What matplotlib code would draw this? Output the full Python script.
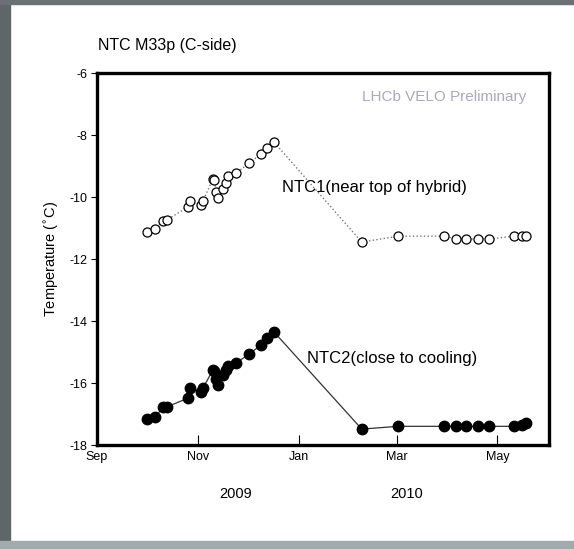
import datetime as dt

import matplotlib
matplotlib.use("Agg")
import matplotlib.pyplot as plt
from matplotlib.patches import Rectangle

plt.rcParams["font.family"] = ["Liberation Sans", "DejaVu Sans"]
plt.rcParams["axes.unicode_minus"] = False

# Measurement dates (2009-10 run) and the two NTC readings in deg C
dates = [
    "2009-10-01", "2009-10-06", "2009-10-11", "2009-10-13", "2009-10-26",
    "2009-10-27", "2009-11-03", "2009-11-04", "2009-11-10", "2009-11-11",
    "2009-11-12", "2009-11-13", "2009-11-16", "2009-11-18", "2009-11-19",
    "2009-11-24", "2009-12-02", "2009-12-09", "2009-12-13", "2009-12-17",
    "2010-02-08", "2010-03-02", "2010-03-30", "2010-04-06", "2010-04-12",
    "2010-04-19", "2010-04-26", "2010-05-11", "2010-05-16", "2010-05-18",
]
ntc1 = [
    -11.13, -11.03, -10.77, -10.74, -10.32, -10.13, -10.26, -10.13, -9.42, -9.45,
    -9.84, -10.03, -9.74, -9.55, -9.32, -9.23, -8.90, -8.61, -8.42, -8.23,
    -11.45, -11.26, -11.26, -11.35, -11.35, -11.35, -11.35, -11.26, -11.26, -11.26,
]
ntc2 = [
    -17.16, -17.10, -16.77, -16.77, -16.48, -16.16, -16.29, -16.16, -15.58, -15.62,
    -15.87, -16.06, -15.74, -15.58, -15.45, -15.35, -15.06, -14.77, -14.55, -14.35,
    -17.48, -17.39, -17.39, -17.39, -17.39, -17.39, -17.39, -17.39, -17.36, -17.29,
]
month_ticks = ["2009-09-01", "2009-11-01", "2010-01-01", "2010-03-01", "2010-05-01"]
month_labels = ["Sep", "Nov", "Jan", "Mar", "May"]
y_ticks = [-6, -8, -10, -12, -14, -16, -18]

x = [dt.datetime.strptime(d, "%Y-%m-%d") for d in dates]
xt = [dt.datetime.strptime(d, "%Y-%m-%d") for d in month_ticks]

fig = plt.figure(figsize=(5.74, 5.49), dpi=100)
fig.patch.set_facecolor("white")

# grey slide frame around the white page
fig.patches.append(Rectangle((0, 0), 0.018, 1, transform=fig.transFigure,
                             color="#5f6668", zorder=-5))
fig.patches.append(Rectangle((0, 0.993), 1, 0.007, transform=fig.transFigure,
                             color="#6a7073", zorder=-5))
fig.patches.append(Rectangle((0, 0), 1, 0.015, transform=fig.transFigure,
                             color="#a3aaad", zorder=-5))

ax = fig.add_axes([0.169, 0.189, 0.787, 0.678])

ax.plot(x, ntc1, linestyle=":", color="#777777", linewidth=1.0,
        marker="o", markersize=6.5, markerfacecolor="white",
        markeredgecolor="black", markeredgewidth=0.9)
ax.plot(x, ntc2, linestyle="-", color="#333333", linewidth=0.9,
        marker="o", markersize=7.5, markerfacecolor="black",
        markeredgecolor="black")

ax.set_xlim(dt.datetime(2009, 9, 1), dt.datetime(2010, 6, 1))
ax.set_ylim(-18, -6)
ax.set_xticks(xt)
ax.set_xticklabels(month_labels)
ax.set_yticks(y_ticks)
ax.tick_params(axis="x", direction="in", length=7, width=0.8,
               labelsize=9, pad=4)
ax.tick_params(axis="y", direction="out", length=4, width=0.8,
               labelsize=9, pad=3)
for s in ax.spines.values():
    s.set_linewidth(2.4)

ax.set_ylabel("Temperature ($^{\\circ}$C)", fontsize=10.5, labelpad=6)

ax.text(dt.datetime(2009, 12, 22), -9.7, "NTC1(near top of hybrid)",
        fontsize=12, va="center", ha="left")
ax.text(dt.datetime(2010, 1, 6), -15.2, "NTC2(close to cooling)",
        fontsize=12, va="center", ha="left")
ax.text(0.95, 0.935, "LHCb VELO Preliminary", transform=ax.transAxes,
        fontsize=11, color="#a9a9c0", ha="right", va="center")

fig.text(0.171, 0.918, "NTC M33p (C-side)", fontsize=11.5, ha="left",
         va="center")
fig.text(0.41, 0.1, "2009", fontsize=10.5, ha="center", va="center")
fig.text(0.708, 0.1, "2010", fontsize=10.5, ha="center", va="center")

fig.savefig("out.png", dpi=100)
